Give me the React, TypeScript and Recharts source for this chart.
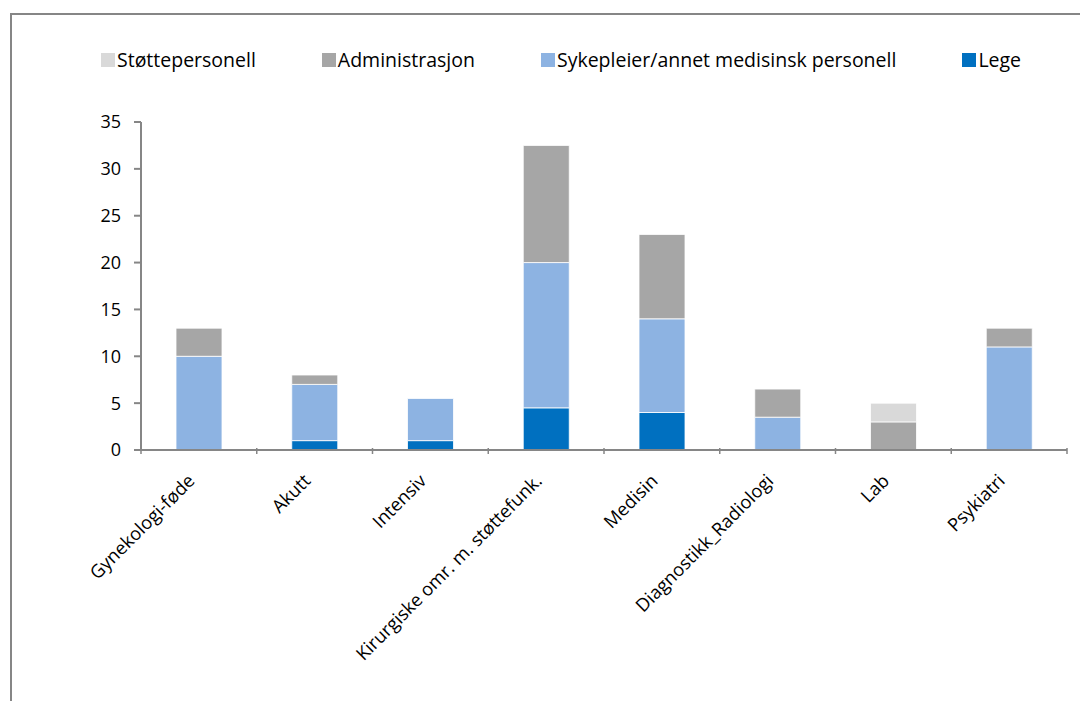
import React from 'react';
import { BarChart, Bar, XAxis, YAxis, Legend } from 'recharts';

const categories = [
  'Gynekologi-føde',
  'Akutt',
  'Intensiv',
  'Kirurgiske omr. m. støttefunk.',
  'Medisin',
  'Diagnostikk_Radiologi',
  'Lab',
  'Psykiatri',
];

const lege = [0, 1, 1, 4.5, 4, 0, 0, 0];
const sykepleier = [10, 6, 4.5, 15.5, 10, 3.5, 0, 11];
const administrasjon = [3, 1, 0, 12.5, 9, 3, 3, 2];
const stottepersonell = [0, 0, 0, 0, 0, 0, 2, 0];

const yTicks = [0, 5, 10, 15, 20, 25, 30, 35];

const series = [
  { key: 'stotte', name: 'Støttepersonell', color: '#D9D9D9' },
  { key: 'admin', name: 'Administrasjon', color: '#A6A6A6' },
  { key: 'syke', name: 'Sykepleier/annet medisinsk personell', color: '#8DB3E2' },
  { key: 'lege', name: 'Lege', color: '#0070C0' },
];

const data = categories.map((name, i) => ({
  name,
  lege: lege[i],
  syke: sykepleier[i],
  admin: administrasjon[i],
  stotte: stottepersonell[i],
}));

const FONT = '"Open Sans", "Liberation Sans", sans-serif';
const AXIS = '#868686';
const WIDTH = 1069;
const HEIGHT = 687;
const MARGIN = { top: 107, right: 14, bottom: 192, left: 69 };
const Y_AXIS_W = 60;
const step = (WIDTH - MARGIN.left - MARGIN.right - Y_AXIS_W) / categories.length;

// category labels sit under the band centre, tick marks go at the band edges
const CategoryTick = (props: any) => {
  const { x, y, payload, index } = props;
  const axisY = y - 10;
  const tx = x - 3;
  const ty = axisY + 34;
  return (
    <g>
      <line x1={x - step / 2} x2={x - step / 2} y1={axisY} y2={axisY + 6} stroke={AXIS} strokeWidth={1.5} />
      {index === categories.length - 1 && (
        <line x1={x + step / 2} x2={x + step / 2} y1={axisY} y2={axisY + 6} stroke={AXIS} strokeWidth={1.5} />
      )}
      <text
        x={tx}
        y={ty}
        textAnchor="end"
        transform={`rotate(-45, ${tx}, ${ty})`}
        fontSize={18.3}
        fontFamily={FONT}
        fill="#000"
      >
        {payload.value}
      </text>
    </g>
  );
};

const LegendContent = () => (
  <div style={{ display: 'flex', gap: 66, fontFamily: FONT, fontSize: 19.5, color: '#000', lineHeight: '24px' }}>
    {series.map((s) => (
      <div key={s.key} style={{ display: 'flex', alignItems: 'center', whiteSpace: 'nowrap' }}>
        <span style={{ width: 14, height: 14, background: s.color, display: 'inline-block', marginRight: 2 }} />
        {s.name}
      </div>
    ))}
  </div>
);

const App: React.FC = () => {
  return (
    <div
      style={{
        position: 'fixed',
        left: 10,
        top: 13,
        width: 1070,
        height: 688,
        borderTop: `2px solid ${AXIS}`,
        borderLeft: `2px solid ${AXIS}`,
        boxSizing: 'border-box',
        background: '#fff',
      }}
    >
      <BarChart width={WIDTH} height={HEIGHT} data={data} margin={MARGIN}>
        <XAxis
          dataKey="name"
          interval={0}
          tick={<CategoryTick />}
          tickLine={false}
          axisLine={{ stroke: AXIS, strokeWidth: 2 }}
          height={60}
        />
        <YAxis
          domain={[0, 35]}
          ticks={yTicks}
          width={Y_AXIS_W}
          tickSize={7}
          tickMargin={13}
          axisLine={{ stroke: AXIS, strokeWidth: 2 }}
          tickLine={{ stroke: AXIS, strokeWidth: 2 }}
          tick={{ fontSize: 18, fontFamily: FONT, fill: '#000' }}
        />
        <Legend
          verticalAlign="middle"
          layout="horizontal"
          content={<LegendContent />}
          wrapperStyle={{ top: 33, left: 89, width: 'auto' }}
        />
        <Bar dataKey="lege" name="Lege" stackId="a" fill="#0070C0" stroke="#fff" strokeWidth={0.8} barSize={46} isAnimationActive={false} />
        <Bar dataKey="syke" name="Sykepleier/annet medisinsk personell" stackId="a" fill="#8DB3E2" stroke="#fff" strokeWidth={0.8} barSize={46} isAnimationActive={false} />
        <Bar dataKey="admin" name="Administrasjon" stackId="a" fill="#A6A6A6" stroke="#fff" strokeWidth={0.8} barSize={46} isAnimationActive={false} />
        <Bar dataKey="stotte" name="Støttepersonell" stackId="a" fill="#D9D9D9" stroke="#fff" strokeWidth={0.8} barSize={46} isAnimationActive={false} />
      </BarChart>
    </div>
  );
};

export default App;
